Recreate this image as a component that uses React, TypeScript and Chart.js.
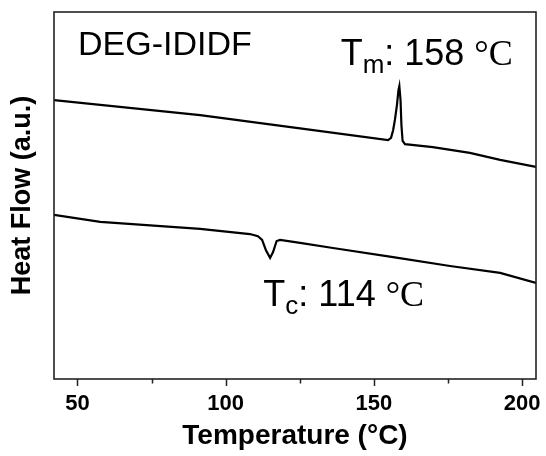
import React, { useEffect, useRef } from "react";
import { Chart, registerables } from "chart.js";

Chart.register(...registerables);

// ---- Data ----
// Heating curve (upper, melting peak)
const heatT = [42.1, 91.4, 125.1, 154.8, 155.8, 156.5, 157.1, 157.8, 158.3, 158.6, 159.0, 159.3, 159.7, 160.5, 169.9, 182.4, 192.6, 204.7];
const heatHF = [76.0, 71.9, 68.3, 65.1, 65.7, 67.8, 70.6, 74.7, 78.7, 79.8, 76.0, 69.2, 64.9, 64.0, 63.2, 61.6, 59.7, 57.8];
// Cooling curve (lower, crystallisation dip)
const coolT = [42.1, 57.7, 91.4, 108.2, 110.9, 112.3, 113.6, 115.0, 116.0, 117.2, 118.4, 125.1, 136.2, 156.5, 175.7, 192.6, 204.7];
const coolHF = [44.7, 42.8, 40.9, 39.5, 38.9, 37.9, 35.1, 33.0, 34.6, 37.6, 37.9, 37.1, 35.7, 33.2, 30.8, 28.9, 26.2];

const xTickLabels = [50, 100, 150, 200];
const xMinorTicks = [75, 125, 175];
const xMin = 42.1;
const xMax = 204.7;

const sampleName = "DEG-IDIDF";
const tmLabel = { main: "T", sub: "m", value: ": 158 ", unit: "°C" };
const tcLabel = { main: "T", sub: "c", value: ": 114 ", unit: "°C" };
// anchor points of the annotations in data units (temperature, heat flow)
const namePos = [50.2, 88.3];
const tmPos = [138.8, 85.6];
const tcPos = [112.7, 20.0];

const SANS = "'Liberation Sans', Arial, sans-serif";
const SERIF = "'Liberation Serif', 'Times New Roman', serif";

function drawRich(ctx: CanvasRenderingContext2D, x: number, y: number, segs: { t: string; f: string; dy: number }[]) {
  let cx = x;
  for (const s of segs) {
    ctx.font = s.f;
    ctx.fillText(s.t, cx, y + s.dy);
    cx += ctx.measureText(s.t).width;
  }
}

const framePlugin = {
  id: "frameAndText",
  afterDraw(chart: any) {
    const { ctx, chartArea, scales } = chart;
    const xs = scales.x;
    const ys = scales.y;
    ctx.save();
    // frame
    ctx.strokeStyle = "#222";
    ctx.lineWidth = 1.6;
    ctx.strokeRect(chartArea.left, chartArea.top, chartArea.right - chartArea.left, chartArea.bottom - chartArea.top);
    // ticks (outward)
    ctx.beginPath();
    for (const v of xTickLabels) {
      const px = Math.round(xs.getPixelForValue(v)) + 0.5;
      ctx.moveTo(px, chartArea.bottom);
      ctx.lineTo(px, chartArea.bottom + 7);
    }
    for (const v of xMinorTicks) {
      const px = Math.round(xs.getPixelForValue(v)) + 0.5;
      ctx.moveTo(px, chartArea.bottom);
      ctx.lineTo(px, chartArea.bottom + 4.5);
    }
    ctx.lineWidth = 1.5;
    ctx.stroke();

    // texts
    ctx.fillStyle = "#000";
    ctx.textBaseline = "alphabetic";
    ctx.textAlign = "left";
    ctx.font = `34px ${SANS}`;
    ctx.fillText(sampleName, xs.getPixelForValue(namePos[0]), ys.getPixelForValue(namePos[1]));

    for (const [lab, pos] of [[tmLabel, tmPos], [tcLabel, tcPos]] as any) {
      drawRich(ctx, xs.getPixelForValue(pos[0]), ys.getPixelForValue(pos[1]), [
        { t: lab.main, f: `36px ${SANS}`, dy: 0 },
        { t: lab.sub, f: `26px ${SANS}`, dy: 8 },
        { t: lab.value, f: `36px ${SANS}`, dy: 0 },
        { t: lab.unit, f: `36px ${SERIF}`, dy: 0 },
      ]);
    }
    ctx.restore();
  },
};

export default function App() {
  const ref = useRef<HTMLCanvasElement | null>(null);
  useEffect(() => {
    document.body.style.margin = "0";
    if (!ref.current) return;
    const toPts = (xs: number[], ys: number[]) => xs.map((x, i) => ({ x, y: ys[i] }));
    const chart = new Chart(ref.current, {
      type: "line",
      data: {
        datasets: [
          { data: toPts(heatT, heatHF), borderColor: "#000", borderWidth: 2.2, pointRadius: 0, tension: 0, fill: false },
          { data: toPts(coolT, coolHF), borderColor: "#000", borderWidth: 2.2, pointRadius: 0, tension: 0, fill: false },
        ],
      },
      options: {
        animation: false,
        responsive: false,
        maintainAspectRatio: false,
        layout: { padding: { top: 12, right: 10, left: 0, bottom: 0 } },
        plugins: { legend: { display: false }, tooltip: { enabled: false } },
        scales: {
          x: {
            type: "linear",
            min: xMin,
            max: xMax,
            grid: { display: false },
            border: { display: false },
            ticks: {
              stepSize: 50,
              includeBounds: false,
              autoSkip: false,
              maxRotation: 0,
              padding: 4,
              color: "#000",
              font: { family: SANS, size: 22, weight: "bold" },
            },
            title: {
              display: true,
              text: "Temperature (°C)",
              color: "#000",
              font: { family: SANS, size: 28, weight: "bold" },
              padding: { top: 0, bottom: 3 },
            },
            afterFit: (s: any) => {
              s.height = 77;
            },
          },
          y: {
            min: 0,
            max: 100,
            grid: { display: false },
            border: { display: false },
            ticks: { display: false },
            title: {
              display: true,
              text: "Heat Flow (a.u.)",
              color: "#000",
              font: { family: SANS, size: 27, weight: "bold" },
              padding: { top: 6, bottom: 0 },
            },
            afterFit: (s: any) => {
              s.width = 54;
            },
          },
        },
      } as any,
      plugins: [framePlugin],
    });
    return () => chart.destroy();
  }, []);
  return (
    <div style={{ width: 546, height: 456 }}>
      <canvas ref={ref} width={546} height={456} style={{ display: "block", width: 546, height: 456 }} />
    </div>
  );
}
